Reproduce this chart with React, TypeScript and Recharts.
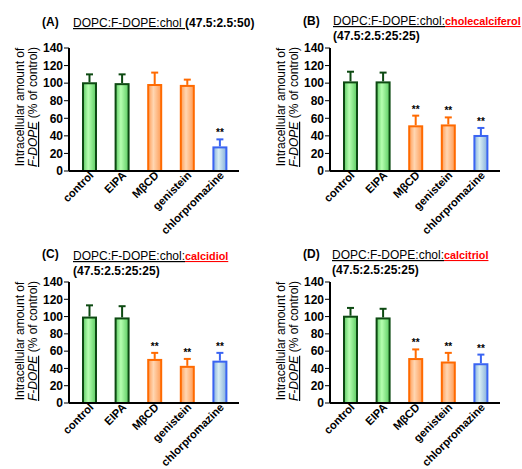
import React from 'react';
import { BarChart, Bar, XAxis, YAxis } from 'recharts';

const categories = ['control', 'EIPA', 'MβCD', 'genistein', 'chlorpromazine'];
const groups = ['green', 'green', 'orange', 'orange', 'blue'];
const yTicks = [0, 20, 40, 60, 80, 100, 120, 140];

// mean % of control and upper error
const meanA = [101, 100, 99, 98, 28];
const errA = [9, 10, 13, 6, 8];
const sigA = [false, false, false, false, true];

const meanB = [102, 102, 52, 53, 41];
const errB = [11, 10, 11, 8, 8];
const sigB = [false, false, true, true, true];

const meanC = [100, 99, 51, 43, 49];
const errC = [13, 13, 7, 8, 9];
const sigC = [false, false, true, true, true];

const meanD = [101, 99, 52, 48, 46];
const errD = [9, 10, 10, 10, 10];
const sigD = [false, false, true, true, true];

const FONT = '"Liberation Sans", Arial, sans-serif';

const palette: Record<string, { stroke: string; edge: string; mid: string }> = {
  green: { stroke: '#0d4a12', edge: '#5ccc62', mid: '#b6ffb0' },
  orange: { stroke: '#ff6a00', edge: '#ff9c55', mid: '#ffd6b2' },
  blue: { stroke: '#3a64f2', edge: '#86afdc', mid: '#d8eef3' },
};

const build = (mean: number[], err: number[], sig: boolean[]) =>
  categories.map((name, i) => ({ name, mean: mean[i], err: err[i], sig: sig[i], group: groups[i] }));

const BarShape = (props: any) => {
  const { x, y, width, height, payload, pid } = props;
  const c = palette[payload.group];
  const unit = payload.mean ? height / payload.mean : 0;
  const top = y - payload.err * unit;
  const cx = x + width / 2;
  return (
    <g>
      <line x1={cx} x2={cx} y1={y} y2={top} stroke={c.stroke} strokeWidth={2} />
      <line x1={cx - 3.5} x2={cx + 3.5} y1={top} y2={top} stroke={c.stroke} strokeWidth={2} />
      <rect x={x + 1} y={y + 1} width={width - 2} height={height - 1}
        fill={`url(#${pid}-${payload.group})`} stroke={c.stroke} strokeWidth={2} />
      {payload.sig && (
        <text x={cx} y={top - 3} textAnchor="middle" fontSize={10} fontWeight="bold" fontFamily={FONT} fill="#000">**</text>
      )}
    </g>
  );
};

const renderXTick = (props: any) => {
  const { x, y, payload } = props;
  return (
    <g transform={`translate(${x + 5}, ${y + 5}) rotate(-45)`}>
      <text x={0} y={0} textAnchor="end"
        fontSize={11.2} fontWeight="bold" fontFamily={FONT} fill="#000">
        {payload.value}
      </text>
    </g>
  );
};

interface PanelProps {
  id: string;
  left: number;
  top: number;
  height: number;
  plotTop: number;
  plotBottom: number;
  data: any[];
  tag: string;
  tagY: number;
  titleX: number;
  titleY: number;
  base: string;
  red?: string;
  ratio: string;
  labelY: number;
}

const Panel = (p: PanelProps) => (
  <div style={{ position: 'absolute', left: p.left, top: p.top, width: 261, height: p.height }}>
    <BarChart width={261} height={p.height} data={p.data}
      margin={{ top: p.plotTop, right: 22, left: 0, bottom: 0 }} barSize={15}>
      <defs>
        {Object.keys(palette).map((k) => (
          <linearGradient key={k} id={`${p.id}-${k}`} x1="0" y1="0" x2="1" y2="0">
            <stop offset="0%" stopColor={palette[k].edge} />
            <stop offset="40%" stopColor={palette[k].mid} />
            <stop offset="100%" stopColor={palette[k].edge} />
          </linearGradient>
        ))}
      </defs>
      <XAxis dataKey="name" height={p.height - p.plotBottom} padding={{ left: 4, right: 3 }}
        tickLine={false} tickSize={0} tickMargin={0} interval={0}
        axisLine={{ stroke: '#000', strokeWidth: 2 }} tick={renderXTick} />
      <YAxis width={69} domain={[0, 140]} ticks={yTicks} interval={0}
        tickSize={5} tickMargin={1}
        axisLine={{ stroke: '#000', strokeWidth: 2 }} tickLine={{ stroke: '#000' }}
        tick={{ fill: '#000', fontSize: 12, fontWeight: 'bold', fontFamily: FONT }} />
      <Bar dataKey="mean" isAnimationActive={false}
        shape={(s: any) => <BarShape {...s} pid={p.id} />} />
    </BarChart>
    <svg width={261} height={p.height} style={{ position: 'absolute', left: 0, top: 0, pointerEvents: 'none', overflow: 'visible' }}
      fontFamily={FONT}>
      <text x={42} y={p.tagY} fontSize={12} fontWeight="bold" fill="#000">{p.tag}</text>
      <text x={p.titleX} y={p.titleY} fontSize={12} fill="#000">
        <tspan textDecoration="underline">{p.base}</tspan>
        {p.red && <tspan fill="#ff0000" fontWeight="bold" fontSize={10.8} textDecoration="underline">{p.red}</tspan>}
        {!p.red && <tspan fontWeight="bold">{p.ratio}</tspan>}
      </text>
      {p.red && (
        <text x={p.titleX} y={p.titleY + 15} fontSize={12} fontWeight="bold" fill="#000">{p.ratio}</text>
      )}
      <text transform={`translate(24, ${p.labelY}) rotate(-90)`} textAnchor="middle" fontSize={12} fill="#000">
        Intracellular amount of
      </text>
      <text transform={`translate(37, ${p.labelY}) rotate(-90)`} textAnchor="middle" fontSize={12} fill="#000">
        <tspan fontStyle="italic" textDecoration="underline">F-DOPE</tspan>
        <tspan> (% of control)</tspan>
      </text>
    </svg>
  </div>
);

export default function App() {
  return (
    <div style={{ position: 'absolute', left: 0, top: 0, width: 522, height: 469, background: '#fff', overflow: 'hidden' }}>
      <Panel id="pa" left={0} top={0} height={250} plotTop={48} plotBottom={171} data={build(meanA, errA, sigA)}
        tag="(A)" tagY={26} titleX={73} titleY={27} base="DOPC:F-DOPE:chol " ratio="(47.5:2.5:50)" labelY={107} />
      <Panel id="pb" left={261} top={0} height={250} plotTop={48} plotBottom={171} data={build(meanB, errB, sigB)}
        tag="(B)" tagY={25} titleX={72} titleY={25} base="DOPC:F-DOPE:chol:" red="cholecalciferol"
        ratio="(47.5:2.5:25:25)" labelY={107} />
      <Panel id="pc" left={0} top={230} height={239} plotTop={52} plotBottom={173} data={build(meanC, errC, sigC)}
        tag="(C)" tagY={28} titleX={73} titleY={30} base="DOPC:F-DOPE:chol:" red="calcidiol"
        ratio="(47.5:2.5:25:25)" labelY={111} />
      <Panel id="pd" left={261} top={230} height={239} plotTop={52} plotBottom={173} data={build(meanD, errD, sigD)}
        tag="(D)" tagY={28} titleX={71} titleY={29} base="DOPC:F-DOPE:chol:" red="calcitriol"
        ratio="(47.5:2.5:25:25)" labelY={111} />
    </div>
  );
}
